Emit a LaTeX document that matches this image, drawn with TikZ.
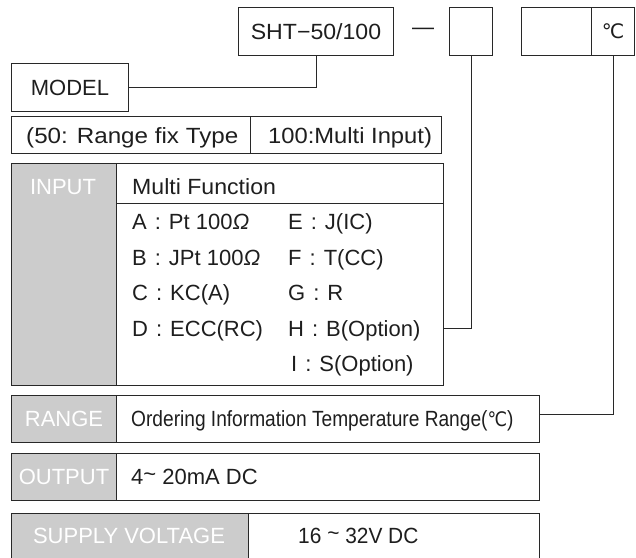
\documentclass[tikz,border=0pt]{standalone}
\usepackage{fontspec}
\setmainfont{Liberation Sans}
\newfontfamily\symf{DejaVu Sans}
\definecolor{linec}{RGB}{40,40,40}
\definecolor{grayf}{RGB}{204,204,204}
\definecolor{txt}{RGB}{30,30,30}
\tikzset{
  box/.style={draw=linec, line width=1pt, inner sep=0pt, anchor=north west, text=txt},
  graybox/.style={box, fill=grayf, text=white},
  lbl/.style={inner sep=0pt, anchor=base west, text=txt},
  conn/.style={draw=linec, line width=1pt},
}
\newcommand{\degC}{{\symf\fontsize{20}{22}\selectfont ℃}}
\newcommand{\hs}[2]{\scalebox{#1}[1]{#2}}
\newcommand{\cln}{\hspace{8pt}:\hspace{8pt}}
\begin{document}
\begin{tikzpicture}[x=1pt,y=-1pt,font=\fontsize{22}{26}\selectfont]
\useasboundingbox (0,0) rectangle (636,557);
% top code
\node[box, minimum width=155pt, minimum height=48pt] (sht) at (238,7) {\hs{1.05}{SHT−50/100}};
\node[inner sep=0pt, text=txt] (dash) at (423,31) {—};
\node[box, minimum width=43pt, minimum height=48pt] (b1) at (449,7) {};
\node[box, minimum width=70pt, minimum height=48pt] (b2) at (521,7) {};
\node[box, minimum width=43pt, minimum height=48pt] (degc) at (591,7) {\degC};
% model
\node[box, minimum width=117pt, minimum height=48pt] (model) at (11,63) {MODEL};
\node[box, minimum width=239pt, minimum height=37pt] (par1) at (11,116) {};
\node[box, minimum width=191pt, minimum height=37pt] (par2) at (250,116) {};
\node[lbl] (t50) at (26,143) {\hs{1.1}{(50: Range fix Type}};
\node[lbl] (t100) at (268,143) {\hs{1.08}{100:Multi Input)}};
% input
\node[box, minimum width=432pt, minimum height=222pt] (inp) at (11,163) {};
\node[graybox, minimum width=105pt, minimum height=222pt] (inpg) at (11,163) {};
\node[box, minimum width=327pt, minimum height=40pt] (mf) at (116,163) {};
\node[inner sep=0pt, text=white, anchor=base] (inptxt) at (63,194) {INPUT};
\node[lbl] (mftxt) at (132,194) {\hs{1.05}{Multi Function}};
\node[lbl] (ra) at (132,229) {A\cln Pt 100{\itshape Ω}};
\node[lbl] (rb) at (132,265) {B\cln JPt 100{\itshape Ω}};
\node[lbl] (rc) at (132,300) {C\cln KC(A)};
\node[lbl] (rd) at (132,336) {D\cln ECC(RC)};
\node[lbl] (re) at (288,229) {E\cln J(IC)};
\node[lbl] (rf) at (288,265) {F\cln T(CC)};
\node[lbl] (rg) at (288,300) {G\cln R};
\node[lbl] (rh) at (288,336) {H\cln B(Option)};
\node[lbl] (ri) at (291,371) {I\cln S(Option)};
% range
\node[box, minimum width=528pt, minimum height=47pt] (rng) at (11,395) {};
\node[graybox, minimum width=105pt, minimum height=47pt] (rngg) at (11,395) {RANGE};
\node[lbl] (rngtxt) at (131,426) {\hs{0.87}{Ordering Information Temperature Range(\degC)}};
% output
\node[box, minimum width=528pt, minimum height=47pt] (out) at (11,453) {};
\node[graybox, minimum width=105pt, minimum height=47pt] (outg) at (11,453) {OUTPUT};
\node[lbl] (outtxt) at (131,484) {4\raisebox{0.1em}{\textasciitilde} 20mA DC};
% supply
\node[box, minimum width=528pt, minimum height=50pt] (sup) at (11,513) {};
\node[graybox, minimum width=237pt, minimum height=50pt] (supg) at (11,513) {};
\node[inner sep=0pt, text=white, anchor=base] (suplbl) at (129,543) {SUPPLY VOLTAGE};
\node[lbl] (suptxt) at (298,543) {\hs{0.95}{16 \raisebox{0.1em}{\textasciitilde} 32V DC}};
% connectors
\draw[conn] (sht.south) |- (model.east);
\draw[conn] (b1.south) |- ([yshift=2pt]inp.east |- rh.center);
\draw[conn] (degc.south) |- ([yshift=5pt]rng.east);
\end{tikzpicture}
\end{document}
